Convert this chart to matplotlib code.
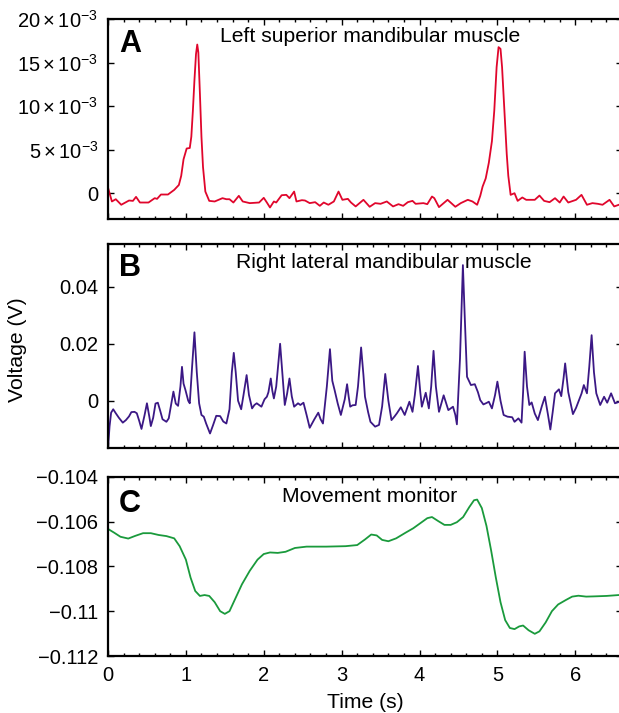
import matplotlib
matplotlib.use("Agg")
import matplotlib.pyplot as plt
from matplotlib.ticker import MultipleLocator

plt.rcParams['font.family'] = ['Liberation Sans', 'DejaVu Sans']
plt.rcParams['mathtext.fontset'] = 'custom'
plt.rcParams['mathtext.rm'] = 'Liberation Sans'
plt.rcParams['mathtext.it'] = 'Liberation Sans:italic'
plt.rcParams['mathtext.sf'] = 'Liberation Sans'

# ---------------- data ----------------
# Panel A: left superior mandibular muscle (mV -> V)
a_t = [0.0, 0.05, 0.1, 0.17, 0.27, 0.32, 0.36, 0.41, 0.52, 0.6, 0.63, 0.68, 0.77, 0.85,
       0.91, 0.94, 0.97, 1.01, 1.05, 1.07, 1.09, 1.11, 1.13, 1.146, 1.16, 1.18, 1.20, 1.22,
       1.25, 1.30, 1.37, 1.47, 1.52,
       1.56, 1.61, 1.68, 1.73, 1.82, 1.94, 2.0, 2.04, 2.08, 2.13, 2.16, 2.23, 2.29, 2.33,
       2.39, 2.42, 2.49, 2.53, 2.59, 2.66, 2.72, 2.77, 2.83, 2.9, 2.96, 3.01, 3.08, 3.12,
       3.18, 3.28, 3.36, 3.43, 3.5, 3.58, 3.66, 3.73, 3.79, 3.85, 3.91, 3.95, 4.05, 4.1,
       4.16, 4.19, 4.25, 4.36, 4.46, 4.53, 4.62, 4.68, 4.74, 4.78, 4.81, 4.85, 4.89, 4.93,
       4.96, 4.99, 5.015, 5.04, 5.06, 5.09, 5.12, 5.14, 5.17, 5.22, 5.26, 5.32, 5.37, 5.43,
       5.48, 5.54, 5.6, 5.67, 5.74,
       5.8, 5.85, 5.91, 6.01, 6.08, 6.15, 6.22, 6.29, 6.35, 6.44, 6.5, 6.56]
a_mv = [0.65, -0.95, -0.69, -1.33, -0.84, -0.88, -0.42, -1.07, -1.07, -0.57, -0.65, -0.15,
        -0.15, 0.38, 0.95, 2.0, 3.9, 5.14, 5.2, 6.5, 9.5, 13.0, 16.0, 17.1, 16.2, 11.5, 6.5,
        3.0, 0.19, -0.88, -0.95, -0.57, -0.69,
        -0.69, -1.07, -0.30, -0.95, -1.14, -1.07, -0.53, -1.07, -1.64, -0.95, -1.07,
        -0.23, -0.19, -0.57, 0.19, -0.95, -0.80, -0.84, -1.14, -1.03, -1.45, -1.07, -1.33,
        -0.95, 0.19, -0.76, -0.65, -1.07, -1.52, -0.76, -1.56, -1.14, -1.22, -0.95, -1.52,
        -1.26, -1.45, -1.03, -0.88, -1.22, -1.14, -1.26, -0.38, -0.57, -1.60, -0.76, -1.56,
        -1.14, -0.76, -0.95, -1.33, -0.3, 0.76, 1.7, 3.5, 6.0,
        9.5, 14.5, 16.8, 16.6, 14.5, 9.5, 4.5, 2.0, -0.19, 0.0,
        -0.88, -0.49, -0.76, -0.76, -0.76, -0.27, -0.88, -1.03, -0.57, -1.07, -0.38, -1.07,
        -0.76, -0.19, -1.33, -1.14, -1.22, -1.33, -0.76, -1.52, -1.33]
a_v = [v * 1e-3 for v in a_mv]

# Panel B: right lateral mandibular muscle (mV -> V)
b_t = [0.0, 0.02, 0.04, 0.067, 0.10, 0.14, 0.19, 0.23, 0.27, 0.30, 0.34, 0.37, 0.40, 0.43,
       0.47, 0.50, 0.53, 0.55, 0.58, 0.61, 0.64, 0.67, 0.70, 0.75, 0.78, 0.81, 0.84, 0.87,
       0.90, 0.93, 0.95, 0.97, 0.995, 1.03, 1.05, 1.08, 1.11, 1.14, 1.17, 1.20, 1.23, 1.26,
       1.31, 1.35, 1.39, 1.44, 1.48, 1.52, 1.56, 1.59, 1.615, 1.64, 1.67, 1.71, 1.74, 1.78,
       1.81, 1.85, 1.88, 1.91, 1.97, 2.01, 2.04, 2.06, 2.09, 2.11, 2.13, 2.16, 2.21, 2.24,
       2.27, 2.30, 2.33, 2.36, 2.39, 2.44, 2.47, 2.51, 2.55, 2.59, 2.65, 2.70, 2.73, 2.76,
       2.81, 2.85, 2.88, 2.91, 2.95, 2.99, 3.04, 3.07, 3.09, 3.11, 3.14, 3.18,
       3.21, 3.25, 3.28, 3.30, 3.34, 3.37, 3.43, 3.48, 3.52, 3.56, 3.60, 3.64, 3.68, 3.71,
       3.76, 3.81, 3.87, 3.91, 3.94, 3.98, 4.01, 4.03, 4.08, 4.12, 4.15, 4.18, 4.21, 4.25,
       4.31, 4.37, 4.43, 4.46, 4.48, 4.52, 4.557, 4.58, 4.61, 4.66, 4.71, 4.75, 4.78, 4.82,
       4.86, 4.89, 4.93, 4.97, 5.00, 5.04, 5.08, 5.13, 5.19, 5.22, 5.27, 5.31, 5.33, 5.35,
       5.38, 5.41, 5.44, 5.48, 5.52, 5.57, 5.61, 5.65, 5.68, 5.71, 5.74, 5.79, 5.82, 5.85,
       5.87, 5.91, 5.97, 6.01, 6.04, 6.08, 6.11, 6.15, 6.18, 6.21, 6.24, 6.27, 6.32, 6.37,
       6.41, 6.46, 6.51, 6.57]
b_mv = [-16.7, -9.0, -4.2, -3.0, -4.4, -6.0, -7.7, -6.8, -5.5, -4.0, -3.9, -4.4, -7.0, -9.9,
        -5.0, -0.9, -5.5, -8.9, -6.0, -1.0, -0.7, -3.5, -6.5, -7.4, -6.2, -1.5, 3.2, -1.0,
        -1.8, 5.0, 11.9, 6.0, 3.7, 0.0, -0.9, 12.0, 24.0, 10.0, -0.9, -5.0, -5.6, -8.0,
        -11.5, -8.5, -5.3, -5.4, -7.3, -8.0, -3.0, 10.0, 16.8, 10.0, 0.0, -3.0, 2.0, 9.0,
        2.0, -2.7, -1.5, -0.9, -2.1, 0.5, 1.4, 3.0, 7.8, 3.5, 0.8, 5.0, 20.0, 9.0,
        -1.5, 2.5, 7.8, 1.5, -2.1, -0.9, -1.5, -0.7, -5.0, -9.5, -6.5, -4.2, -6.5, -8.0,
        5.0, 18.1, 7.0, 3.7, -1.0, -5.0, 0.5, 5.8, 1.5, -2.1, -1.6, -1.5,
        5.0, 18.7, 9.0, 1.4, -4.0, -7.4, -9.1, -8.5, -2.0, 9.4, 0.0, -6.8, -5.5, -4.4,
        -2.3, -5.0, -0.35, -3.9, 2.0, 12.2, 3.0, -2.1, 2.8, -2.7, 5.0, 17.5, 5.0, -3.9,
        1.9, -3.3, -2.1, -5.0, -8.3, 15.0, 47.6, 30.0, 8.4, 5.5, 5.8, 3.0, 0.2, -1.3,
        -0.8, -0.35, -2.7, 2.0, 6.7, 0.0, -5.0, -5.6, -5.8, -7.4, -6.2, -7.7, 3.0, 17.2,
        5.0, -1.5, -0.6, -4.5, -6.8, -2.0, 1.4, -5.0, -10.1, -4.0, 2.6, 4.0, 1.6, 8.0,
        13.1, 3.0, -4.7, -2.5, -0.35, 2.5, 5.5, 2.6, 12.0, 23.0, 10.0, 2.6, -1.5, 1.4,
        -0.7, 2.6, -0.9, -0.35]
b_v = [v * 1e-3 for v in b_mv]

# Panel C: movement monitor (V)
c_t = [0.00, 0.08, 0.16, 0.26, 0.35, 0.45, 0.55, 0.65, 0.75, 0.85, 0.92, 1.00, 1.06, 1.12,
       1.18, 1.24, 1.30, 1.37, 1.44, 1.50, 1.56, 1.64, 1.72, 1.82, 1.92, 2.00, 2.08, 2.18,
       2.28, 2.40, 2.55, 2.80, 3.05, 3.20, 3.30, 3.38, 3.45, 3.52, 3.60, 3.70, 3.82, 3.92,
       4.02, 4.10, 4.16, 4.24, 4.32, 4.40, 4.48, 4.56, 4.64, 4.70, 4.74, 4.80, 4.86, 4.92,
       4.98, 5.04, 5.10, 5.16, 5.22, 5.28, 5.33, 5.40, 5.48, 5.54, 5.62, 5.70, 5.78, 5.88,
       5.96, 6.04, 6.14, 6.24, 6.40, 6.56]
c_v = [-0.10633, -0.10650, -0.10668, -0.10676, -0.10664, -0.10652, -0.10652, -0.10660,
       -0.10665, -0.10675, -0.10710, -0.10770, -0.10850, -0.10910, -0.10932, -0.10928,
       -0.10932, -0.10960, -0.11000, -0.11012, -0.11000, -0.10940, -0.10880, -0.10820,
       -0.10770, -0.10745, -0.10738, -0.10740, -0.10735, -0.10718, -0.10712, -0.10712,
       -0.10710, -0.10705, -0.10680, -0.10658, -0.10662, -0.10682, -0.10688, -0.10675,
       -0.10650, -0.10630, -0.10605, -0.10585, -0.10580, -0.10598, -0.10615, -0.10615,
       -0.10603, -0.10580, -0.10535, -0.10505, -0.10502, -0.10540, -0.10620, -0.10730,
       -0.10850, -0.10960, -0.11040, -0.11075, -0.11080, -0.11068, -0.11064, -0.11085,
       -0.11101, -0.11090, -0.11050, -0.11000, -0.10970, -0.10950, -0.10935, -0.10931,
       -0.10935, -0.10934, -0.10932, -0.10928]

a_ticks = [0, 5e-3, 10e-3, 15e-3, 20e-3]
a_labels = ['0', r'$\mathregular{5\times10^{-3}}$', r'$\mathregular{10\times10^{-3}}$',
            r'$\mathregular{15\times10^{-3}}$', r'$\mathregular{20\times10^{-3}}$']
b_ticks = [0, 0.02, 0.04]
b_labels = ['0', '0.02', '0.04']
c_ticks = [-0.112, -0.110, -0.108, -0.106, -0.104]
c_labels = ['\u22120.112', '\u22120.11', '\u22120.108', '\u22120.106', '\u22120.104']
x_ticks = [0, 1, 2, 3, 4, 5, 6]

titles = ['Left superior mandibular muscle', 'Right lateral mandibular muscle',
          'Movement monitor']
letters = ['A', 'B', 'C']
colors = ['#e0062c', '#3b1885', '#1a9a3c']

# ---------------- figure ----------------
W, H = 619, 713
fig = plt.figure(figsize=(W / 100, H / 100), dpi=100)

def px_axes(top, bottom, left=108, right=622):
    return fig.add_axes([left / W, 1 - bottom / H, (right - left) / W, (bottom - top) / H])

axA = px_axes(19.3, 219.3)
axB = px_axes(244.3, 448.3)
axC = px_axes(476.7, 656.0)

series = [(a_t, a_v), (b_t, b_v), (c_t, c_v)]
ylims = [(-3e-3, 20e-3), (-0.0167, 0.0549), (-0.112, -0.104)]
yt = [(a_ticks, a_labels), (b_ticks, b_labels), (c_ticks, c_labels)]
title_x = [370, 384, 370]
title_y = [36, 262, 496]
letter_y = [44, 268, 504]

for i, ax in enumerate([axA, axB, axC]):
    t, v = series[i]
    ax.plot(t, v, color=colors[i], lw=1.3, clip_on=True, solid_joinstyle='round')
    ax.set_xlim(0, 6.6)
    ax.set_ylim(*ylims[i])
    ax.set_yticks(yt[i][0])
    ax.set_yticklabels(yt[i][1])
    ax.set_xticks(x_ticks)
    ax.xaxis.set_minor_locator(MultipleLocator(0.2))
    for s in ax.spines.values():
        s.set_linewidth(1.6)
    ax.tick_params(axis='both', which='both', direction='in', top=True, right=True,
                   labelsize=14.5, pad=7)
    ax.tick_params(which='major', length=4, width=1.0)
    ax.tick_params(which='minor', length=2.5, width=1.0)
    if i < 2:
        ax.set_xticklabels([])
    bb = ax.get_position()
    ty = (1 - title_y[i] / H - bb.y0) / bb.height
    ly = (1 - letter_y[i] / H - bb.y0) / bb.height
    ax.text((title_x[i] - 108) / (622 - 108), ty, titles[i], transform=ax.transAxes,
            ha='center', va='center', fontsize=15.2)
    ax.text((119 - 108) / (622 - 108), ly, letters[i], transform=ax.transAxes,
            ha='left', va='center', fontsize=22, fontweight='bold')

axC.set_xlabel('Time (s)', fontsize=15.2, labelpad=6)
fig.text(18 / W, 1 - 350 / H, 'Voltage (V)', rotation=90, ha='center', va='center',
         fontsize=15.2)

fig.savefig('out.png', dpi=100)
